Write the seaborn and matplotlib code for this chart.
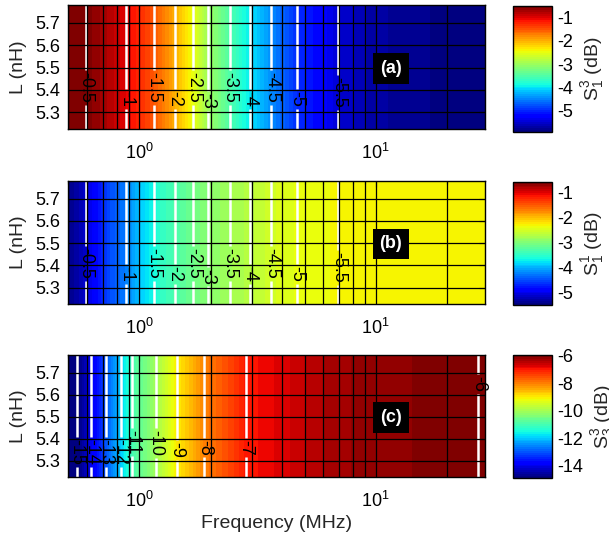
import numpy as np
import matplotlib
matplotlib.use("Agg")
import matplotlib.pyplot as plt
from matplotlib.colors import ListedColormap, Normalize
from matplotlib.cm import ScalarMappable
from matplotlib.ticker import LogLocator, NullFormatter
import seaborn as sns

sns.set_style("white")
plt.rcParams["font.family"] = ["Liberation Sans", "DejaVu Sans"]
plt.rcParams["mathtext.fontset"] = "custom"
plt.rcParams["mathtext.rm"] = "Liberation Sans"
plt.rcParams["mathtext.it"] = "Liberation Sans"
plt.rcParams["mathtext.default"] = "regular"

# Inductance sweep (nH) – the responses do not vary with L
inductance = [5.225, 5.78]

# (a) S13 magnitude (dB) versus frequency (MHz)
freq_a = [0.5, 0.592, 0.881, 1.15, 1.41, 1.69, 1.95, 2.41, 2.93, 3.62, 4.63, 6.95, 10.0, 20.0, 29.0]
s13 = [-0.47, -0.5, -1.0, -1.5, -2.0, -2.5, -3.0, -3.5, -4.0, -4.5, -5.0, -5.5, -5.75, -5.9, -5.94]

# (b) S11 magnitude (dB) versus frequency (MHz)
freq_b = [0.5, 0.55, 0.65, 0.75, 0.85, 0.95, 1.05, 1.25, 1.55, 1.85, 2.2, 2.7, 3.3, 3.8, 4.3, 5.5, 8.0, 10.0, 20.0, 29.0]
s11 = [-5.4, -5.3, -4.86, -4.5, -4.3, -4.05, -3.8, -3.45, -3.2, -3.0, -2.87, -2.73, -2.58, -2.48, -2.42, -2.34,
       -2.31, -2.3, -2.29, -2.29]

# (c) S33 magnitude (dB) versus frequency (MHz)
freq_c = [0.5, 0.544, 0.626, 0.722, 0.832, 0.934, 1.176, 1.439, 1.882, 2.82, 4.0, 5.0, 6.0, 8.0, 10.0, 20.0, 27.2, 29.0]
s33 = [-15.5, -15.0, -14.0, -13.0, -12.0, -11.0, -10.0, -9.0, -8.0, -7.0, -6.7, -6.5, -6.35, -6.2, -6.1, -6.03,
       -6.0, -5.95]

levels_ab = [-5.5, -5, -4.5, -4, -3.5, -3, -2.5, -2, -1.5, -1, -0.5]
levels_c = [-15, -14, -13, -12, -11, -10, -9, -8, -7, -6]

# label anchor heights (nH) along each contour
lab_y_ab = [5.39, 5.36, 5.41, 5.36, 5.41, 5.35, 5.41, 5.36, 5.41, 5.36, 5.41]
lab_y_c = [5.34, 5.34, 5.34, 5.34, 5.385, 5.38, 5.35, 5.36, 5.36, 5.65]

clims = [(-5.94, -0.48), (-5.5, -0.55), (-14.92, -5.93)]
cticks = [[-5, -4, -3, -2, -1], [-5, -4, -3, -2, -1], [-14, -12, -10, -8, -6]]
clabels = ["S$_1^3$ (dB)", "S$_1^1$ (dB)", "S$_3^3$ (dB)"]
tags = ["(a)", "(b)", "(c)"]

jet64 = ListedColormap(matplotlib.colormaps["jet"].resampled(64)(np.arange(64)))

W, H = 609, 534
fig = plt.figure(figsize=(W / 100, H / 100), dpi=100)


def px_axes(x0, y0, x1, y1):
    return fig.add_axes([x0 / W, 1 - y1 / H, (x1 - x0) / W, (y1 - y0) / H])


panel_px = [(5, 129), (181, 304.3), (355, 477.3)]
cbar_px = [(6, 131.7), (181.7, 305), (355, 478)]


def grid2d(freq, vals):
    F, Lg = np.meshgrid(np.asarray(freq), np.asarray(inductance))
    Z = np.tile(np.asarray(vals, dtype=float), (len(inductance), 1))
    return F, Lg, Z


fill_sets = [(freq_a, s13), (freq_b, s11), (freq_c, s33)]
line_sets = [(freq_a, s13, levels_ab, lab_y_ab), (freq_a, s13, levels_ab, lab_y_ab),
             (freq_c, s33, levels_c, lab_y_c)]

for i in range(3):
    top, bot = panel_px[i]
    ax = px_axes(68.3, top, 485, bot)
    ax.set_xscale("log")
    ax.set_xlim(0.5, 29)
    ax.set_ylim(inductance[0], inductance[1])

    vmin, vmax = clims[i]
    norm = Normalize(vmin, vmax)
    F, Lg, Z = grid2d(*fill_sets[i])
    ax.contourf(F, Lg, Z, levels=np.linspace(vmin, vmax, 65), cmap=jet64, norm=norm,
                extend="both", zorder=0)

    fl, vl, lev, ly = line_sets[i]
    F2, L2, Z2 = grid2d(fl, vl)
    cs = ax.contour(F2, L2, Z2, levels=lev, colors="white", linewidths=1.8,
                    linestyles="solid", zorder=1)
    order = np.argsort(vl)
    xs = np.interp(lev, np.asarray(vl)[order], np.asarray(fl)[order])
    ax.clabel(cs, fmt="%g", fontsize=13, inline=True, inline_spacing=2,
              manual=list(zip(xs, ly)))
    for t in cs.labelTexts:
        t.set_color("black")
        t.set_clip_on(False)

    ax.set_yticks([5.3, 5.4, 5.5, 5.6, 5.7])
    ax.set_yticklabels(["5.3", "5.4", "5.5", "5.6", "5.7"])
    ax.xaxis.set_major_locator(LogLocator(base=10, numticks=10))
    ax.xaxis.set_minor_locator(LogLocator(base=10, subs=np.arange(2, 10), numticks=20))
    ax.xaxis.set_minor_formatter(NullFormatter())
    ax.grid(True, which="both", axis="x", color="black", linewidth=0.9)
    ax.grid(True, which="major", axis="y", color="black", linewidth=0.9)
    ax.set_axisbelow(False)
    ax.tick_params(which="both", direction="in", top=True, right=True, labelsize=13,
                   length=4, width=0.8, colors="black", pad=6)
    ax.tick_params(axis="x", which="both", pad=10)
    ax.tick_params(which="minor", length=2)
    for sp in ax.spines.values():
        sp.set_color("black")
        sp.set_linewidth(1.0)
    ax.set_ylabel("L (nH)", fontsize=14, labelpad=6)
    if i == 2:
        ax.set_xlabel("Frequency (MHz)", fontsize=14, labelpad=3)

    ax.text(0.774, 0.49, tags[i], transform=ax.transAxes, ha="center", va="center",
            color="white", fontweight="bold", fontsize=13, zorder=5,
            bbox=dict(facecolor="black", edgecolor="none", pad=5))

    ctop, cbot = cbar_px[i]
    cax = px_axes(513.3, ctop, 551.7, cbot)
    cb = fig.colorbar(ScalarMappable(norm=norm, cmap=jet64), cax=cax, ticks=cticks[i])
    cb.ax.set_yticklabels([f"{t:g}" for t in cticks[i]])
    cb.outline.set_edgecolor("black")
    cb.outline.set_linewidth(1.0)
    cb.ax.tick_params(direction="in", length=4, width=0.8, labelsize=13, colors="black", pad=4)
    cb.set_label(clabels[i], fontsize=14, labelpad=4)

fig.savefig("out.png", dpi=100)
